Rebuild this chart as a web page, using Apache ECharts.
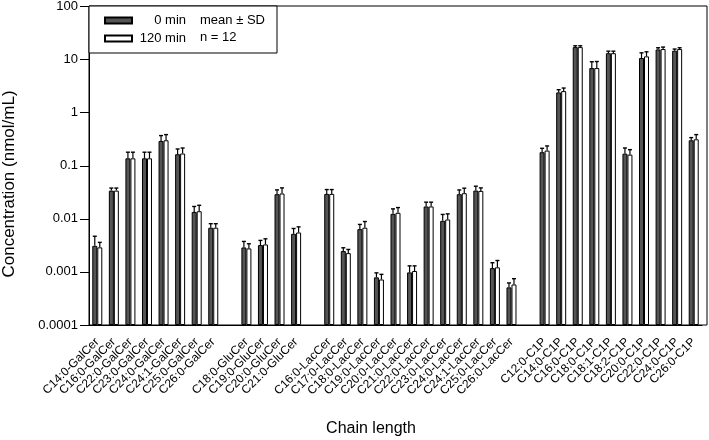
<!DOCTYPE html>
<html>
<head>
<meta charset="utf-8">
<script src="https://cdn.jsdelivr.net/npm/echarts@6/dist/echarts.min.js"></script>
<style>
  html, body { margin: 0; padding: 0; background: #fff; }
  #chart { width: 709px; height: 440px; }
</style>
</head>
<body>
<div id="chart"></div>
<script>
// ---------- DATA ----------
const galCerNames = ['C14:0-GalCer','C16:0-GalCer','C22:0-GalCer','C23:0-GalCer','C24:0-GalCer','C24:1-GalCer','C25:0-GalCer','C26:0-GalCer'];
const gluCerNames = ['C18:0-GluCer','C19:0-GluCer','C20:0-GluCer','C21:0-GluCer'];
const lacCerNames = ['C16:0-LacCer','C17:0-LacCer','C18:0-LacCer','C19:0-LacCer','C20:0-LacCer','C21:0-LacCer','C22:0-LacCer','C23:0-LacCer','C24:0-LacCer','C24:1-LacCer','C25:0-LacCer','C26:0-LacCer'];
const c1pNames = ['C12:0-C1P','C14:0-C1P','C16:0-C1P','C18:0-C1P','C18:1-C1P','C18:2-C1P','C20:0-C1P','C22:0-C1P','C24:0-C1P','C26:0-C1P'];

// mean values, 0 min
const galCer0 = [0.0031, 0.034, 0.138, 0.138, 0.293, 0.165, 0.0135, 0.0068];
const gluCer0 = [0.00289, 0.0032, 0.0291, 0.00522];
const lacCer0 = [0.0295, 0.00247, 0.0064, 0.00079, 0.0124, 0.00098, 0.0171, 0.00916, 0.0291, 0.0341, 0.00118, 0.000512];
const c1p0    = [0.18, 2.41, 17.2, 6.92, 13.2, 0.169, 10.7, 15.5, 14.7, 0.302];
// mean values, 120 min
const galCer120 = [0.0029, 0.034, 0.138, 0.138, 0.302, 0.17, 0.0139, 0.0068];
const gluCer120 = [0.00277, 0.00329, 0.030, 0.00553];
const lacCer120 = [0.0295, 0.00226, 0.0068, 0.00072, 0.013, 0.00104, 0.0171, 0.00972, 0.0304, 0.0336, 0.00122, 0.00058];
const c1p120    = [0.193, 2.55, 17.2, 6.92, 13.2, 0.162, 11.5, 15.8, 15.8, 0.315];
// mean + SD (upper error bar end), 0 min
const galCerUp0 = [0.0047, 0.038, 0.18, 0.18, 0.37, 0.207, 0.0171, 0.0081];
const gluCerUp0 = [0.00375, 0.00392, 0.0351, 0.00658];
const lacCerUp0 = [0.0356, 0.00285, 0.00784, 0.00096, 0.0154, 0.0013, 0.0206, 0.0121, 0.035, 0.0412, 0.00149, 0.00062];
const c1pUp0    = [0.213, 2.71, 18.2, 9.1, 14.4, 0.216, 13.4, 16.7, 15.8, 0.339];
// mean + SD (upper error bar end), 120 min
const galCerUp120 = [0.0036, 0.038, 0.18, 0.18, 0.386, 0.216, 0.018, 0.0081];
const gluCerUp120 = [0.00339, 0.0042, 0.0383, 0.00706];
const lacCerUp120 = [0.0356, 0.00265, 0.0089, 0.0009, 0.0163, 0.0013, 0.0206, 0.0124, 0.0378, 0.0383, 0.00164, 0.000745];
const c1pUp120    = [0.236, 2.91, 18.2, 9.2, 14.4, 0.201, 14.0, 17.2, 16.7, 0.386];

const seriesNames = ['0 min', '120 min'];
const legendNote = ['mean \u00b1 SD', 'n = 12'];
const yTitle = 'Concentration (nmol/mL)';
const xTitle = 'Chain length';

// ---------- BUILD (gaps between groups are empty categories) ----------
const categories = [].concat(galCerNames, [' '], gluCerNames, ['  '], lacCerNames, ['   '], c1pNames);
const mean0 = [].concat(galCer0, [null], gluCer0, [null], lacCer0, [null], c1p0);
const mean120 = [].concat(galCer120, [null], gluCer120, [null], lacCer120, [null], c1p120);
const up0 = [].concat(galCerUp0, [null], gluCerUp0, [null], lacCerUp0, [null], c1pUp0);
const up120 = [].concat(galCerUp120, [null], gluCerUp120, [null], lacCerUp120, [null], c1pUp120);

const FONT = '"Liberation Sans", Arial, Helvetica, sans-serif';
const BAR_W = 5;

function errData(means, ups) {
  const out = [];
  means.forEach((m, i) => { if (m != null) out.push([i, m, ups[i]]); });
  return out;
}
function errRender(shift) {
  return function (params, api) {
    const i = api.value(0);
    const base = api.coord([i, api.value(1)]);
    const top = api.coord([i, api.value(2)]);
    const x = base[0] + shift;
    const hw = 2;
    return {
      type: 'group',
      children: [
        { type: 'line', shape: { x1: x, y1: base[1], x2: x, y2: top[1] }, style: { stroke: '#000', lineWidth: 1.2 } },
        { type: 'line', shape: { x1: x - hw, y1: top[1], x2: x + hw, y2: top[1] }, style: { stroke: '#000', lineWidth: 1.4 } }
      ]
    };
  };
}

const chart = echarts.init(document.getElementById('chart'), null, { renderer: 'canvas' });
chart.setOption({
  backgroundColor: '#fff',
  animation: false,
  textStyle: { fontFamily: FONT, color: '#000' },
  grid: [
    { left: 89, right: 7, top: 6, bottom: 115, containLabel: false },
    { left: 89, right: 2, top: 6, bottom: 115, show: true, borderColor: '#000', borderWidth: 1, backgroundColor: 'transparent' }
  ],
  legend: {
    data: seriesNames,
    left: 89, top: 6,
    orient: 'vertical',
    itemWidth: 27, itemHeight: 6, itemGap: 5, itemTextGap: 5,
    padding: [8, 91, 8, 15],
    borderColor: '#000', borderWidth: 1, borderRadius: 0,
    backgroundColor: '#fff',
    icon: 'rect',
    formatter: n => '{a|' + n + '}',
    textStyle: {
      fontFamily: FONT, fontSize: 13, color: '#000',
      rich: { a: { width: 49, align: 'right', fontFamily: FONT, fontSize: 13, color: '#000' } }
    }
  },
  xAxis: [
    {
      type: 'category', gridIndex: 0, data: categories,
      boundaryGap: true,
      axisLine: { lineStyle: { color: '#000', width: 1 } },
      axisTick: { alignWithLabel: true, length: 11, lineStyle: { color: '#000', width: 1 }, interval: (i, v) => v.trim() !== '' },
      axisLabel: { interval: 0, rotate: 45, margin: 15, fontSize: 12, color: '#000', fontFamily: FONT },
      splitLine: { show: false }
    },
    { type: 'value', gridIndex: 1, show: false }
  ],
  yAxis: [
    {
      type: 'log', gridIndex: 0, logBase: 10, min: 0.0001, max: 100, startValue: 0.0001,
      axisLine: { show: true, lineStyle: { color: '#000', width: 1 } },
      axisTick: { show: true, length: 9, lineStyle: { color: '#000', width: 1 } },
      axisLabel: {
        margin: 11, fontSize: 13, color: '#000', fontFamily: FONT,
        formatter: v => { const e = Math.round(Math.log10(v)); return e >= 0 ? String(Math.pow(10, e)) : Math.pow(10, e).toFixed(-e); }
      },
      splitLine: { show: false },
      minorTick: { show: false }
    },
    { type: 'value', gridIndex: 1, show: false }
  ],
  graphic: [
    { type: 'text', left: 200, top: 14, z: 100, zlevel: 1, style: { text: legendNote[0], font: '13px ' + FONT, fill: '#000' } },
    { type: 'text', left: 200, top: 31, z: 100, zlevel: 1, style: { text: legendNote[1], font: '13px ' + FONT, fill: '#000' } },
    { type: 'text', x: 9, y: 184, rotation: Math.PI / 2, style: { text: yTitle, font: '17px ' + FONT, fill: '#000', align: 'center', verticalAlign: 'middle' } },
    { type: 'text', x: 371, y: 429, style: { text: xTitle, font: '16px ' + FONT, fill: '#000', align: 'center', verticalAlign: 'middle' } }
  ],
  series: [
    {
      name: seriesNames[0], type: 'bar', data: mean0, barWidth: BAR_W, barGap: '0%',
      itemStyle: { color: '#555', borderColor: '#000', borderWidth: 1 }
    },
    {
      name: seriesNames[1], type: 'bar', data: mean120, barWidth: BAR_W, barGap: '0%',
      itemStyle: { color: '#fff', borderColor: '#000', borderWidth: 1 }
    },
    { name: 'err0', type: 'custom', data: errData(mean0, up0), renderItem: errRender(-BAR_W / 2), encode: { x: 0, y: [1, 2] }, z: 3 },
    { name: 'err120', type: 'custom', data: errData(mean120, up120), renderItem: errRender(BAR_W / 2), encode: { x: 0, y: [1, 2] }, z: 3 }
  ]
});
</script>
</body>
</html>
